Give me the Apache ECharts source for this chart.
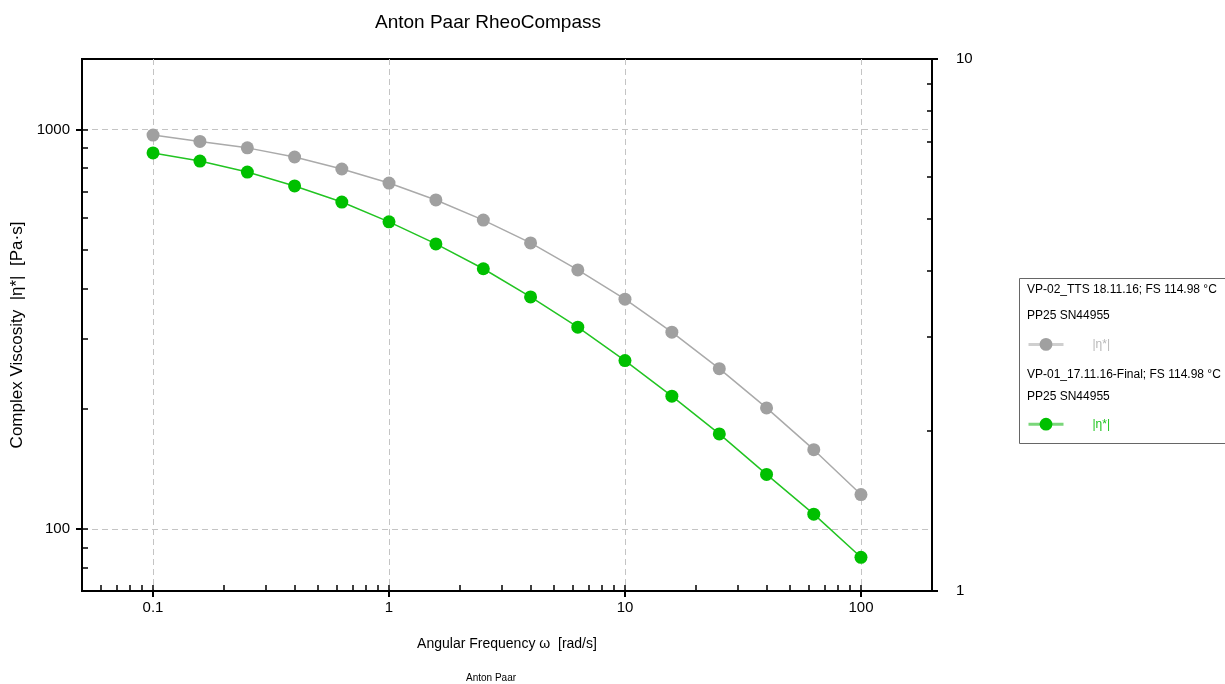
<!DOCTYPE html>
<html>
<head>
<meta charset="utf-8">
<title>Anton Paar RheoCompass</title>
<script src="https://cdn.jsdelivr.net/npm/echarts@6/dist/echarts.min.js"></script>
<style>
    html, body { margin: 0; padding: 0; background: #fff; }
    #chart { width: 1225px; height: 684px; }
</style>
</head>
<body>
<div id="chart"></div>
<script>
// angular frequency, rad/s
var omega = [0.1, 0.158, 0.251, 0.398, 0.631, 1, 1.58, 2.51, 3.98, 6.31, 10, 15.8, 25.1, 39.8, 63.1, 100];
// |eta*| in Pa.s
var etaTTS = [968, 933, 899, 853, 796, 734, 666, 593, 520, 445, 376, 311, 252, 201, 158, 122];
var etaFinal = [873, 833, 782, 722, 658, 587, 517, 448, 381, 320, 264, 215, 173, 137, 109, 85];

var seriesNames = ['VP-02_TTS 18.11.16; FS 114.98 °C', 'VP-01_17.11.16-Final; FS 114.98 °C'];

// tick labels
var xLabels = [0.1, 1, 10, 100];
var xMinor = [0.06, 0.07, 0.08, 0.09, 0.1, 0.2, 0.3, 0.4, 0.5, 0.6, 0.7, 0.8, 0.9, 1,
    2, 3, 4, 5, 6, 7, 8, 9, 10, 20, 30, 40, 50, 60, 70, 80, 90, 100];
var yLabels = [100, 1000];
var yMinor = [80, 90, 100, 200, 300, 400, 500, 600, 700, 800, 900, 1000];
var y2Labels = [1, 10];
var y2Minor = [1, 2, 3, 4, 5, 6, 7, 8, 9, 10];

var font = 'Liberation Sans, Arial, sans-serif';
var gray = '#a0a0a0';
var green = '#00c000';

function pairs(xs, ys) {
    var out = [];
    for (var i = 0; i < xs.length; i++) {
        out.push([xs[i], ys[i]]);
    }
    return out;
}

var chart = echarts.init(document.getElementById('chart'));

var option = {
    animation: false,
    title: [
        {
            text: 'Anton Paar RheoCompass',
            left: 483, top: 8, textAlign: 'center',
            textStyle: { fontFamily: font, fontSize: 19, fontWeight: 'normal', color: '#000' }
        },
        {
            text: 'Anton Paar',
            left: 486, top: 668, textAlign: 'center',
            textStyle: { fontFamily: font, fontSize: 10, fontWeight: 'normal', color: '#000' }
        }
    ],
    grid: {
        left: 82, right: 293, top: 59, bottom: 93,
        show: true, borderColor: '#000', borderWidth: 2, backgroundColor: '#fff'
    },
    legend: {
        orient: 'vertical',
        left: 1022, top: 333,
        itemWidth: 35, itemHeight: 16, itemGap: 67,
        formatter: function () { return '|η*|'; },
        textStyle: { fontFamily: font, fontSize: 12, padding: [0, 0, 0, 24] },
        data: [
            { name: seriesNames[0], textStyle: { color: '#b8b8b8' },
              itemStyle: { color: gray }, lineStyle: { color: '#cfcfcf', width: 3 } },
            { name: seriesNames[1], textStyle: { color: '#1cc41c' },
              itemStyle: { color: green }, lineStyle: { color: '#7ad67a', width: 3 } }
        ]
    },
    graphic: [
        { type: 'rect', left: 1017, top: 276, shape: { width: 207, height: 165 },
          style: { fill: 'none', stroke: '#666', lineWidth: 1 }, z: -1 },
        { type: 'text', left: 1027, top: 284,
          style: { text: seriesNames[0], font: '12px ' + font, fill: '#000' } },
        { type: 'text', left: 1027, top: 310,
          style: { text: 'PP25 SN44955', font: '12px ' + font, fill: '#000' } },
        { type: 'text', left: 1027, top: 369,
          style: { text: seriesNames[1], font: '12px ' + font, fill: '#000' } },
        { type: 'text', left: 1027, top: 391,
          style: { text: 'PP25 SN44955', font: '12px ' + font, fill: '#000' } }
    ],
    xAxis: [
        {
            type: 'log', min: 0.05, max: 200, position: 'bottom',
            name: 'Angular Frequency ω  [rad/s]',
            nameLocation: 'middle', nameGap: 46,
            nameTextStyle: { fontFamily: font, fontSize: 14, color: '#000' },
            axisLine: { lineStyle: { color: '#000', width: 2 } },
            axisTick: { inside: false, length: 6, customValues: xLabels, lineStyle: { color: '#000', width: 2 } },
            axisLabel: { customValues: xLabels, margin: 9, fontFamily: font, fontSize: 15, color: '#000',
                formatter: function (v) { return String(v); } },
            splitLine: { show: true, lineStyle: { color: '#c4c4c4', type: [6, 4], width: 1 } },
            minorTick: { show: false }
        },
        {
            type: 'log', min: 0.05, max: 200, position: 'bottom',
            axisLine: { show: false },
            axisTick: { inside: true, length: 6, customValues: xMinor, lineStyle: { color: '#000', width: 1.5 } },
            axisLabel: { show: false },
            splitLine: { show: false }
        }
    ],
    yAxis: [
        {
            type: 'log', min: 70, max: 1500, position: 'left',
            name: 'Complex Viscosity  |η*|  [Pa·s]',
            nameLocation: 'middle', nameGap: 55,
            nameTextStyle: { fontFamily: font, fontSize: 17, color: '#000', padding: [0, 20, 0, 0] },
            axisLine: { lineStyle: { color: '#000', width: 2 } },
            axisTick: { inside: false, length: 6, customValues: yLabels, lineStyle: { color: '#000', width: 2 } },
            axisLabel: { customValues: yLabels, margin: 12, fontFamily: font, fontSize: 15, color: '#000',
                formatter: function (v) { return String(v); } },
            splitLine: { show: true, lineStyle: { color: '#c4c4c4', type: [6, 4], width: 1 } }
        },
        {
            type: 'log', min: 70, max: 1500, position: 'left',
            axisLine: { show: false },
            axisTick: { inside: true, length: 6, customValues: yMinor, lineStyle: { color: '#000', width: 1.5 } },
            axisLabel: { show: false },
            splitLine: { show: false }
        },
        {
            type: 'log', min: 1, max: 10, position: 'right',
            axisLine: { lineStyle: { color: '#000', width: 2 } },
            axisTick: { inside: true, length: 5, customValues: y2Minor, lineStyle: { color: '#000', width: 1.5 } },
            axisLabel: { customValues: y2Labels, margin: 24, fontFamily: font, fontSize: 15, color: '#000',
                formatter: function (v) { return String(v); } },
            splitLine: { show: false }
        },
        {
            type: 'log', min: 1, max: 10, position: 'right',
            axisLine: { show: false },
            axisTick: { inside: false, length: 6, customValues: y2Labels, lineStyle: { color: '#000', width: 2 } },
            axisLabel: { show: false },
            splitLine: { show: false }
        }
    ],
    series: [
        {
            name: seriesNames[0], type: 'line',
            xAxisIndex: 0, yAxisIndex: 0,
            data: pairs(omega, etaTTS),
            symbol: 'circle', symbolSize: 13,
            itemStyle: { color: gray },
            lineStyle: { color: '#aaaaaa', width: 1.5 },
            z: 3
        },
        {
            name: seriesNames[1], type: 'line',
            xAxisIndex: 0, yAxisIndex: 0,
            data: pairs(omega, etaFinal),
            symbol: 'circle', symbolSize: 13,
            itemStyle: { color: green },
            lineStyle: { color: '#22c422', width: 1.5 },
            z: 4
        }
    ]
};

chart.setOption(option);
</script>
</body>
</html>
